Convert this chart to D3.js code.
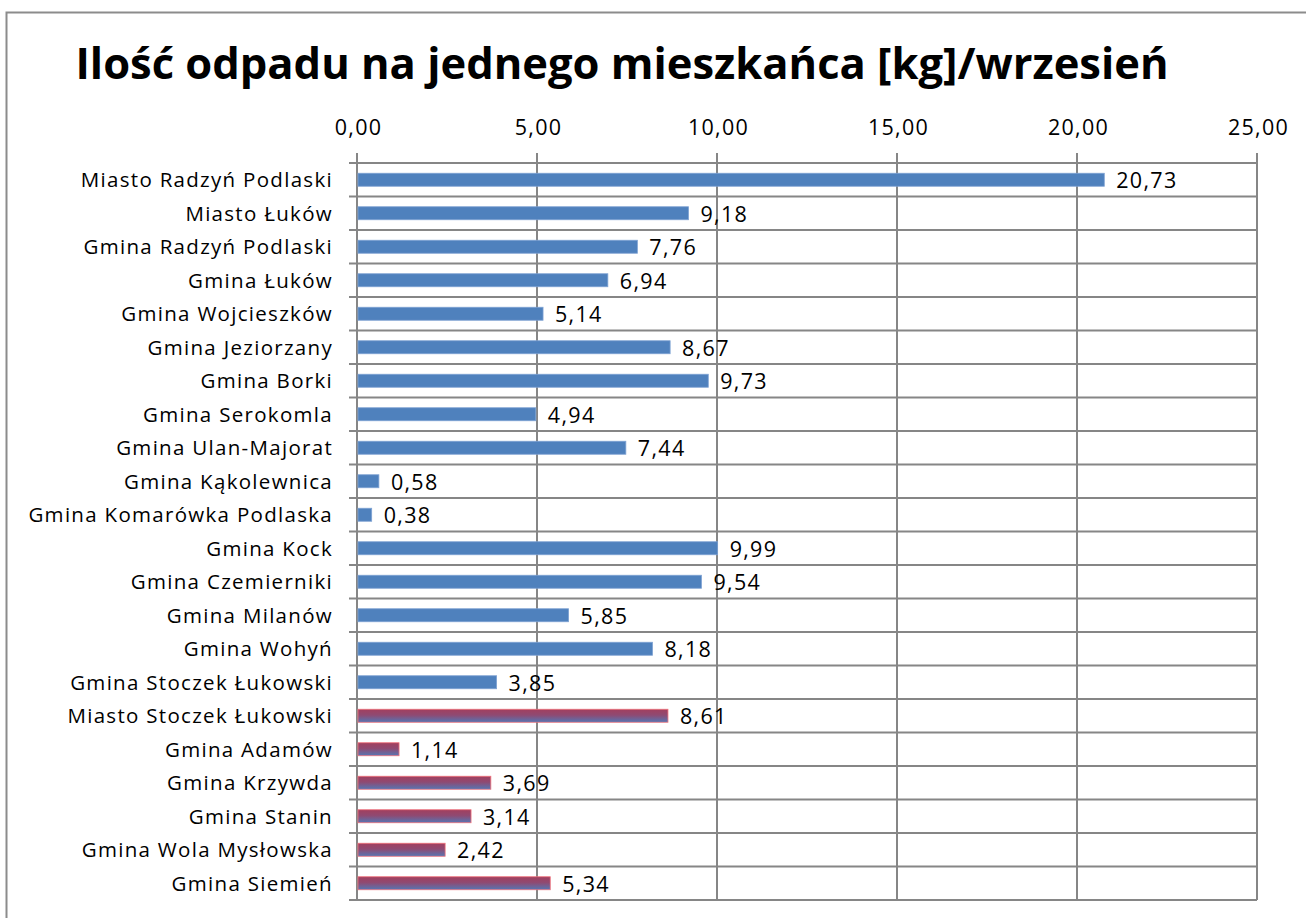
<!DOCTYPE html>
<html>
<head>
<meta charset="utf-8">
<script src="https://cdn.jsdelivr.net/npm/d3@7"></script>
<style>
  body { margin: 0; background: #fff; }
  svg { display: block; font-family: "Open Sans", sans-serif; }
</style>
</head>
<body>
<div id="chart"></div>
<script>
// dane
const gminy = [
  'Miasto Radzyń Podlaski', 'Miasto Łuków', 'Gmina Radzyń Podlaski', 'Gmina Łuków',
  'Gmina Wojcieszków', 'Gmina Jeziorzany', 'Gmina Borki', 'Gmina Serokomla',
  'Gmina Ulan-Majorat', 'Gmina Kąkolewnica', 'Gmina Komarówka Podlaska', 'Gmina Kock',
  'Gmina Czemierniki', 'Gmina Milanów', 'Gmina Wohyń', 'Gmina Stoczek Łukowski ',
  'Miasto Stoczek Łukowski', 'Gmina Adamów', 'Gmina Krzywda', 'Gmina Stanin',
  'Gmina Wola Mysłowska', 'Gmina Siemień'
];
const odpady = [
  20.73, 9.18, 7.76, 6.94, 5.14, 8.67, 9.73, 4.94, 7.44, 0.58, 0.38,
  9.99, 9.54, 5.85, 8.18, 3.85, 8.61, 1.14, 3.69, 3.14, 2.42, 5.34
];
// ostatnie gminy mają inny kolor słupka
const wyroznione = [
  'Miasto Stoczek Łukowski', 'Gmina Adamów', 'Gmina Krzywda', 'Gmina Stanin',
  'Gmina Wola Mysłowska', 'Gmina Siemień'
];
const osX = [0, 5, 10, 15, 20, 25];

const W = 1306, H = 918;
const pLeft = 357, pRight = 1257, pTop = 163, pBottom = 900;
const fmt = v => v.toFixed(2).replace('.', ',');

const svg = d3.select('#chart').append('svg')
  .attr('width', W).attr('height', H);

const defs = svg.append('defs');
const grad = defs.append('linearGradient')
  .attr('id', 'redblue').attr('x1', 0).attr('y1', 0).attr('x2', 0).attr('y2', 1);
grad.append('stop').attr('offset', '0%').attr('stop-color', '#a23f5e');
grad.append('stop').attr('offset', '45%').attr('stop-color', '#8f4a72');
grad.append('stop').attr('offset', '100%').attr('stop-color', '#5576b4');

// ramka
svg.append('rect')
  .attr('x', 6.5).attr('y', 12.5)
  .attr('width', W).attr('height', H)
  .attr('fill', 'none').attr('stroke', '#8c8c8c').attr('stroke-width', 2);

svg.append('text')
  .attr('x', 622).attr('y', 79)
  .attr('text-anchor', 'middle')
  .style('font-size', '43.5px').style('font-weight', 'bold')
  .text('Ilość odpadu na jednego mieszkańca [kg]/wrzesień');

const x = d3.scaleLinear().domain([0, 25]).range([pLeft, pRight]);
const y = d3.scaleBand().domain(gminy).range([pTop, pBottom]).padding(0);

// siatka pionowa
svg.append('g').selectAll('line')
  .data(osX).enter().append('line')
  .attr('x1', d => x(d)).attr('x2', d => x(d))
  .attr('y1', pTop - 10).attr('y2', pBottom)
  .attr('stroke', '#868686').attr('stroke-width', 2);

// siatka pozioma
const granice = gminy.map(g => y(g)).concat([pBottom]);
svg.append('g').selectAll('line')
  .data(granice).enter().append('line')
  .attr('x1', pLeft - 8).attr('x2', pRight)
  .attr('y1', d => d).attr('y2', d => d)
  .attr('stroke', '#868686').attr('stroke-width', 2);

// oś górna
svg.append('g')
  .attr('transform', `translate(0,${pTop - 28})`)
  .call(d3.axisTop(x).tickValues(osX).tickSize(0).tickFormat(fmt))
  .call(g => g.select('.domain').remove())
  .selectAll('text')
  .attr('y', 0).attr('dy', 0).attr('dx', 1)
  .attr('fill', '#000')
  .style('font-size', '21.5px').style('letter-spacing', '1.3px')
  .style('font-family', '"Open Sans", sans-serif');

// etykiety kategorii
svg.append('g').selectAll('text')
  .data(gminy).enter().append('text')
  .attr('x', 333)
  .attr('y', d => y(d) + y.bandwidth() / 2 + 7.5)
  .attr('text-anchor', 'end')
  .style('font-size', '20.5px').style('letter-spacing', '1.3px')
  .text(d => d);

const dane = gminy.map((g, i) => ({ gmina: g, v: odpady[i] }));
const barH = 13;

svg.append('g').selectAll('rect')
  .data(dane).enter().append('rect')
  .attr('x', x(0) + 1)
  .attr('y', d => y(d.gmina) + y.bandwidth() / 2 - barH / 2)
  .attr('width', d => x(d.v) - x(0))
  .attr('height', barH)
  .attr('fill', d => wyroznione.includes(d.gmina) ? 'url(#redblue)' : '#4f81bd')
  .attr('stroke', d => wyroznione.includes(d.gmina) ? '#f0707a' : '#7ea2d3')
  .attr('stroke-width', 0.8);

// wartości
svg.append('g').selectAll('text')
  .data(dane).enter().append('text')
  .attr('x', d => x(d.v) + 13)
  .attr('y', d => y(d.gmina) + y.bandwidth() / 2 + 8.5)
  .style('font-size', '21.5px').style('letter-spacing', '1.3px')
  .text(d => fmt(d.v));
</script>
</body>
</html>
